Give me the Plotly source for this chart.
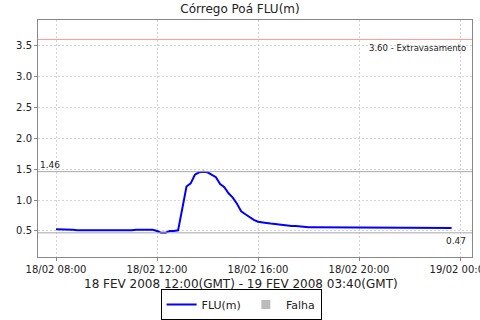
import plotly.graph_objects as go
import pandas as pd

# Data: FLU(m) every 10 minutes from 18/02 08:00 to 18/02 23:40
start_time = "2008-02-18 08:00"
interval = "10min"
flu_values = [
    0.53, 0.53, 0.53, 0.53, 0.52, 0.51, 0.51, 0.51, 0.51, 0.50,
    0.50, 0.50, 0.50, 0.50, 0.50, 0.50, 0.50, 0.50, 0.51, 0.52,
    0.52, 0.51, 0.52, 0.52, 0.50, 0.47, 0.47, 0.50, 0.50, 0.51,
    0.86, 1.22, 1.27, 1.41, 1.45, 1.46, 1.45, 1.41, 1.37, 1.26,
    1.21, 1.11, 1.04, 0.94, 0.82, 0.77, 0.72, 0.68, 0.65, 0.645,
    0.63, 0.62, 0.61, 0.60, 0.59, 0.58, 0.58, 0.58, 0.57, 0.56,
    0.56, 0.56, 0.56, 0.56, 0.56, 0.56, 0.56, 0.56, 0.56, 0.56,
    0.56, 0.56, 0.56, 0.56, 0.56, 0.56, 0.56, 0.56, 0.56, 0.56,
    0.56, 0.56, 0.55, 0.56, 0.56, 0.56, 0.55, 0.56, 0.55, 0.55,
    0.55, 0.56, 0.55, 0.55, 0.55,
]
times = pd.date_range(start_time, periods=len(flu_values), freq=interval)

tick_times = ["2008-02-18 08:00", "2008-02-18 12:00", "2008-02-18 16:00",
              "2008-02-18 20:00", "2008-02-19 00:00"]
tick_labels = ["18/02 08:00", "18/02 12:00", "18/02 16:00", "18/02 20:00", "19/02 00:00"]
y_ticks = [0.5, 1.0, 1.5, 2.0, 2.5, 3.0, 3.5]

threshold_values = [3.60, 1.46, 0.47]
threshold_colors = ["#f09a9a", "#a8a8a8", "#a8a8a8"]
threshold_labels = ["3.60 - Extravasamento", "1.46", "0.47"]

x_title = "18 FEV 2008 12:00(GMT) - 19 FEV 2008 03:40(GMT)"
x_range = ["2008-02-18 07:17:10", "2008-02-19 00:28:30"]
y_range = [0.079, 3.914]

font = "DejaVu Sans"

fig = go.Figure()
fig.add_trace(go.Scatter(x=times, y=flu_values, mode="lines", name="FLU(m)",
                         line=dict(color="#0000ff", width=2)))
fig.add_trace(go.Scatter(x=[None], y=[None], mode="markers", name="Falha",
                         marker=dict(symbol="square", color="#bbbbbb", size=9)))

for v, c in zip(threshold_values, threshold_colors):
    fig.add_shape(type="line", xref="paper", x0=0, x1=1, yref="y", y0=v, y1=v,
                  line=dict(color=c, width=1), layer="above")

fig.add_annotation(xref="paper", x=0.99, yref="y", y=threshold_values[0], text=threshold_labels[0],
                   showarrow=False, xanchor="right", yanchor="top", yshift=-2,
                   font=dict(family=font, size=8.5, color="#222"))
fig.add_annotation(xref="paper", x=0.0, yref="y", y=threshold_values[1], text=threshold_labels[1],
                   showarrow=False, xanchor="left", yanchor="bottom", xshift=0,
                   font=dict(family=font, size=9, color="#222"))
fig.add_annotation(xref="paper", x=0.99, yref="y", y=threshold_values[2], text=threshold_labels[2],
                   showarrow=False, xanchor="right", yanchor="top", yshift=-1,
                   font=dict(family=font, size=9, color="#222"))
# x-axis title placed as an annotation for exact position
fig.add_annotation(xref="paper", x=0.468, yref="paper", y=-0.115, text=x_title,
                   showarrow=False, xanchor="center", yanchor="middle",
                   font=dict(family=font, size=12, color="#222"))

fig.update_layout(
    width=480, height=320,
    margin=dict(l=38, r=8, t=20, b=63, autoexpand=False),
    paper_bgcolor="white", plot_bgcolor="white",
    font=dict(family=font, size=10, color="#222"),
    title=dict(text="Córrego Poá FLU(m)", x=0.5, xanchor="center", y=0.985, yanchor="top",
               font=dict(family=font, size=12, color="#222")),
    showlegend=True,
    legend=dict(orientation="h", x=0.468, xanchor="center", y=-0.135, yanchor="top",
                bordercolor="black", borderwidth=1, bgcolor="white",
                font=dict(family=font, size=11, color="#222"),
                itemwidth=30, tracegroupgap=0),
)
fig.update_xaxes(
    range=x_range, tickvals=tick_times, ticktext=tick_labels,
    showgrid=True, gridcolor="#d4d4d4", griddash="2px,2px", gridwidth=1,
    showline=True, linecolor="#888", mirror=True, linewidth=1,
    ticks="outside", ticklen=3, tickcolor="#888",
    tickfont=dict(family=font, size=10, color="#222"),
    ticklabeloverflow="allow", automargin=False,
    zeroline=False,
)
fig.update_yaxes(
    range=y_range, tickvals=y_ticks, ticktext=[f"{v:.1f}" for v in y_ticks],
    showgrid=True, gridcolor="#d4d4d4", griddash="2px,2px", gridwidth=1,
    showline=True, linecolor="#888", mirror=True, linewidth=1,
    ticks="outside", ticklen=3, tickcolor="#888",
    tickfont=dict(family=font, size=10, color="#222"),
    ticklabeloverflow="allow", automargin=False,
    zeroline=False,
)

fig.write_html("out.html", config={"displayModeBar": False},
               post_script="document.body.style.margin='0';document.body.style.overflow='hidden';")
